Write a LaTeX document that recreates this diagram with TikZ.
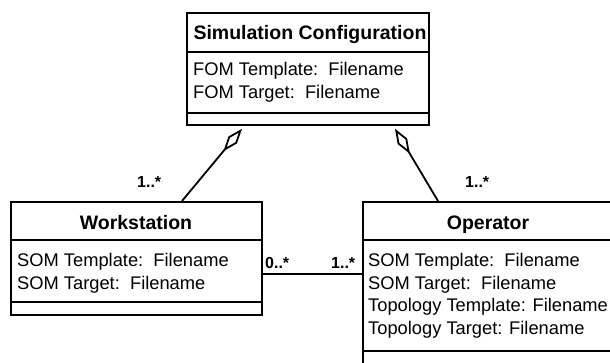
\documentclass[tikz,border=0pt]{standalone}
\usepackage{fontspec}
\setmainfont{Liberation Sans}
\usetikzlibrary{arrows.meta,calc}
\begin{document}
\begin{tikzpicture}[x=1pt,y=-1pt,
  classbox/.style={draw, line width=1.8pt, rectangle, inner sep=0pt, anchor=north west},
  divider/.style={line width=1.8pt},
  ctitle/.style={font=\fontsize{19.5}{23}\selectfont\bfseries, inner sep=0pt, anchor=base},
  attr/.style={font=\fontsize{18.3}{22}\selectfont, inner sep=0pt, anchor=base west},
  mult/.style={font=\fontsize{16}{19}\selectfont\bfseries, inner sep=0pt, anchor=base west},
  conn/.style={line width=1.8pt},
  agg/.style={line width=1.8pt, line join=miter, -{Diamond[open, length=29pt, width=11pt, line width=1.8pt]}}]
\useasboundingbox (0,0) rectangle (610,362);
\clip (0,0) rectangle (610,362);
\fill[white] (0,0) rectangle (610,362);
% Simulation Configuration
\node[classbox, minimum width=242pt, minimum height=112pt] (sim) at (186,12) {};
\draw[divider] ($(sim.north west)+(0,40)$) -- ($(sim.north east)+(0,40)$);
\draw[divider] ($(sim.north west)+(0,101)$) -- ($(sim.north east)+(0,101)$);
\node[ctitle] (simt) at (310,39) {Simulation Configuration};
\node[attr] (sima) at (193,75) {FOM Template:\ \ Filename};
\node[attr] (simb) at (193,98) {FOM Target:\ \ Filename};
% Workstation
\node[classbox, minimum width=251pt, minimum height=113pt] (ws) at (10,201) {};
\draw[divider] ($(ws.north west)+(0,39)$) -- ($(ws.north east)+(0,39)$);
\draw[divider] ($(ws.north west)+(0,101)$) -- ($(ws.north east)+(0,101)$);
\node[ctitle] (wst) at (136,229) {Workstation};
\node[attr] (wsa) at (17,266) {SOM Template:\ \ Filename};
\node[attr] (wsb) at (17,289) {SOM Target:\ \ Filename};
% Operator
\node[classbox, minimum width=252pt, minimum height=200pt] (op) at (362,201) {};
\draw[divider] ($(op.north west)+(0,39)$) -- ($(op.north east)+(0,39)$);
\draw[divider] ($(op.north west)+(0,150)$) -- ($(op.north east)+(0,150)$);
\node[ctitle] (opt) at (488,229) {Operator};
\node[attr] (opa) at (368,266) {SOM Template:\ \ Filename};
\node[attr] (opb) at (368,289) {SOM Target:\ \ Filename};
\node[attr] (opc) at (368,311.5) {Topology Template: Filename};
\node[attr] (opd) at (368,334) {Topology Target: Filename};
% Aggregations
\draw[agg] ($(ws.north west)+(172,0)$) -- ($(sim.south west)+(56,3)$);
\draw[agg] ($(op.north west)+(76,0)$) -- ($(sim.south west)+(209,3)$);
% Association
\coordinate (assocL) at ($(ws.north east)+(0,73)$);
\draw[conn] (assocL) -- (assocL -| op.west);
% Multiplicities
\node[mult] (m1) at (137,187.5) {1..*};
\node[mult] (m2) at (465,187.5) {1..*};
\node[mult] (m3) at (265,268.5) {0..*};
\node[mult] (m4) at (331,268.5) {1..*};
\end{tikzpicture}
\end{document}
